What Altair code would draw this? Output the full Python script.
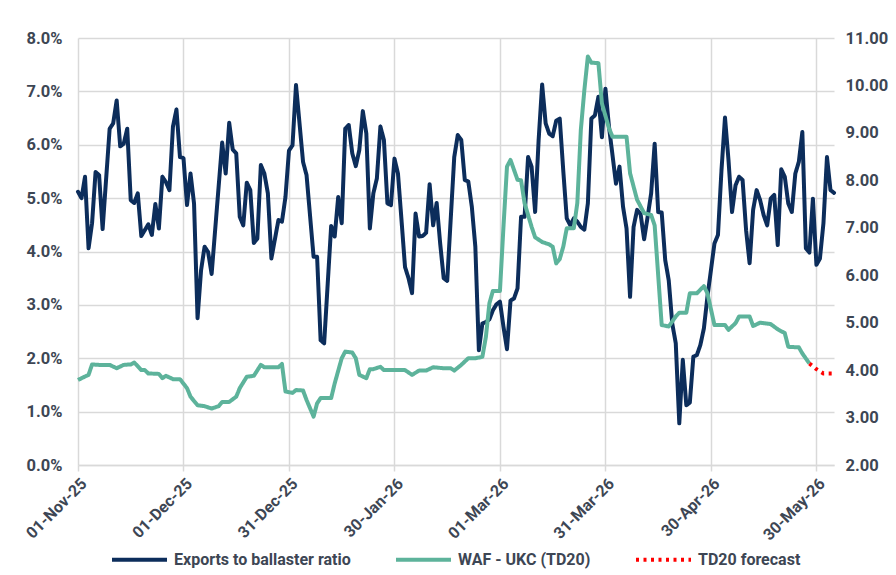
import altair as alt
import pandas as pd

START = "2025-11-01"
END = "2026-06-04"

# Exports to ballaster ratio (%), left axis: day offsets from START and values
navy_days = [0, 1, 2, 3, 4, 5, 6, 7, 9, 10, 11, 12, 13, 14, 15, 16, 17, 18, 19, 20,
             21, 22, 23, 24, 25, 26, 27, 28, 29, 30, 31, 32, 33, 34, 35, 36, 37, 38, 41, 42,
             43, 44, 45, 46, 47, 48, 49, 50, 51, 52, 53, 54, 55, 57, 58, 59, 60, 61, 62, 63,
             64, 65, 67, 68, 69, 70, 72, 73, 74, 75, 76, 77, 78, 79, 80, 81, 82, 83, 84, 85,
             86, 87, 88, 89, 90, 91, 92, 93, 94, 95, 96, 97, 98, 99, 100, 101, 102, 103, 104, 105,
             107, 108, 109, 110, 111, 112, 113, 114, 115, 116, 117, 118, 119, 120, 121, 122, 123, 124, 125, 126,
             127, 128, 129, 130, 131, 132, 133, 134, 135, 136, 137, 138, 139, 140, 141, 142, 143, 144, 145, 146,
             147, 148, 149, 150, 151, 152, 153, 154, 155, 156, 157, 158, 159, 160, 161, 162, 163, 164, 165, 166,
             167, 168, 169, 170, 171, 172, 173, 174, 175, 176, 177, 178, 179, 180, 181, 182, 183, 184, 185, 186,
             187, 188, 189, 190, 191, 192, 193, 194, 195, 196, 197, 198, 199, 200, 201, 202, 203, 204, 205, 206,
             207, 208, 209, 210, 211, 212, 213, 214, 215]
navy_vals = [5.12, 5.00, 5.40, 4.06, 4.53, 5.49, 5.43, 4.42, 6.30, 6.40, 6.83, 5.97, 6.02, 6.30, 4.96, 4.91, 5.09, 4.29, 4.40, 4.51,
             4.31, 4.89, 4.43, 5.40, 5.30, 5.15, 6.34, 6.66, 5.77, 5.75, 4.87, 5.46, 4.90, 2.75, 3.65, 4.09, 3.99, 3.58, 6.04, 5.46,
             6.41, 5.91, 5.84, 4.65, 4.49, 5.29, 5.15, 4.16, 4.24, 5.62, 5.46, 5.09, 3.87, 4.59, 4.56, 5.02, 5.89, 5.99, 7.12, 6.40,
             5.68, 5.43, 3.90, 3.90, 2.34, 2.28, 4.48, 4.28, 5.02, 4.53, 6.30, 6.37, 5.84, 5.60, 5.90, 6.63, 6.21, 4.43, 5.09, 5.37,
             6.34, 6.09, 4.90, 4.87, 5.74, 5.46, 4.59, 3.71, 3.50, 3.22, 4.71, 4.28, 4.29, 4.35, 5.26, 4.49, 4.91, 4.15, 3.50, 3.45,
             5.77, 6.18, 6.09, 5.34, 5.31, 4.84, 4.09, 2.15, 2.65, 2.68, 2.73, 2.90, 3.01, 3.06, 2.59, 2.17, 3.08, 3.12, 3.31, 4.65,
             4.65, 5.77, 5.59, 4.74, 6.09, 7.13, 6.40, 6.21, 6.16, 6.45, 6.49, 5.52, 4.62, 4.49, 4.62, 4.56, 4.46, 4.41, 4.90, 6.49,
             6.55, 6.90, 6.14, 7.05, 6.34, 5.81, 5.27, 5.59, 4.84, 4.43, 3.15, 4.46, 4.78, 4.70, 4.23, 4.65, 5.09, 6.02, 4.74, 4.73,
             3.84, 3.46, 2.65, 2.28, 0.78, 1.97, 1.12, 1.17, 2.03, 2.06, 2.25, 2.56, 3.15, 3.65, 4.15, 4.31, 5.52, 6.51, 5.71, 4.74,
             5.24, 5.40, 5.34, 4.40, 3.78, 4.78, 5.15, 4.96, 4.68, 4.49, 4.99, 5.06, 4.12, 5.54, 5.40, 4.90, 4.74, 5.46, 5.68, 6.24,
             4.06, 3.98, 4.99, 3.75, 3.87, 4.53, 5.77, 5.15, 5.10]

# WAF - UKC (TD20), right axis
teal_days = [0, 1, 3, 4, 6, 9, 11, 13, 15, 16, 18, 19, 20, 23, 24, 25, 27, 29, 31, 32,
             34, 36, 38, 40, 41, 43, 45, 46, 48, 50, 52, 53, 57, 58, 59, 61, 62, 64, 65, 67,
             68, 69, 72, 73, 75, 76, 78, 79, 80, 82, 83, 84, 86, 87, 93, 95, 97, 99, 101, 104,
             106, 107, 109, 111, 113, 115, 116, 117, 118, 120, 121, 122, 123, 125, 126, 127, 129, 130, 132, 134,
             135, 136, 137, 138, 139, 141, 142, 143, 144, 145, 146, 148, 149, 151, 152, 156, 157, 159, 161, 163,
             164, 166, 168, 170, 171, 173, 174, 176, 178, 179, 181, 184, 185, 187, 188, 191, 192, 194, 197, 199,
             201, 202, 205, 206, 208]
teal_vals = [3.79, 3.83, 3.90, 4.12, 4.11, 4.11, 4.04, 4.11, 4.12, 4.16, 4.00, 4.00, 3.93, 3.92, 3.83, 3.88, 3.81, 3.81, 3.62, 3.44,
             3.26, 3.24, 3.19, 3.24, 3.33, 3.33, 3.44, 3.62, 3.86, 3.88, 4.11, 4.06, 4.06, 4.13, 3.55, 3.52, 3.58, 3.57, 3.37, 3.02,
             3.30, 3.41, 3.41, 3.72, 4.25, 4.39, 4.37, 4.25, 3.90, 3.83, 4.02, 4.02, 4.07, 4.00, 4.00, 3.90, 3.99, 3.99, 4.06, 4.04,
             4.04, 3.99, 4.11, 4.25, 4.25, 4.28, 4.70, 5.41, 5.67, 5.67, 7.02, 8.29, 8.43, 8.01, 8.00, 7.52, 7.02, 6.80, 6.70, 6.65,
             6.60, 6.25, 6.34, 6.60, 6.99, 6.99, 7.52, 9.06, 9.90, 10.61, 10.48, 10.47, 9.62, 9.10, 8.92, 8.92, 8.15, 7.59, 7.31, 7.27,
             7.05, 4.95, 4.92, 5.13, 5.21, 5.21, 5.62, 5.62, 5.77, 5.62, 4.95, 4.95, 4.85, 4.99, 5.13, 5.13, 4.93, 5.00, 4.97, 4.86,
             4.78, 4.49, 4.48, 4.35, 4.14]

# TD20 forecast, right axis
fc_days = [208, 210, 212, 215]
fc_vals = [4.14, 4.02, 3.93, 3.93]

tick_dates = ["2025-11-01", "2025-12-01", "2025-12-31", "2026-01-30",
              "2026-03-01", "2026-03-31", "2026-04-30", "2026-05-30"]

series = ["Exports to ballaster ratio", "WAF - UKC (TD20)", "TD20 forecast"]
colors = ["#0c2d5b", "#5db39b", "#ff0000"]
dashes = [[1, 0], [1, 0], [3, 4.5]]

start = pd.Timestamp(START)


def to_dates(days):
    return [(start + pd.Timedelta(days=d)).strftime("%Y-%m-%d") for d in days]


def dt(s):
    t = pd.Timestamp(s)
    return alt.DateTime(year=t.year, month=t.month, date=t.day, utc=True)


left_df = pd.DataFrame({"date": to_dates(navy_days), "value": navy_vals, "series": series[0]})
right_df = pd.concat([
    pd.DataFrame({"date": to_dates(teal_days), "value": teal_vals, "series": series[1]}),
    pd.DataFrame({"date": to_dates(fc_days), "value": fc_vals, "series": series[2]}),
], ignore_index=True)

FONT = "Roboto"
LABEL_COLOR = "#3d4654"
GRID = "#d9d9d9"

legend = alt.Legend(
    title=None, orient="none", direction="horizontal", legendX=32, legendY=492,
    symbolType="stroke", symbolSize=3025, symbolStrokeWidth=4,
    labelFont=FONT, labelFontSize=16, labelFontWeight="bold", labelColor=LABEL_COLOR,
    labelOffset=5, columnPadding=37, padding=0, labelLimit=400,
)

color = alt.Color("series:N", scale=alt.Scale(domain=series, range=colors), legend=legend)
dash = alt.StrokeDash("series:N", scale=alt.Scale(domain=series, range=dashes), legend=legend)

x = alt.X(
    "date:T",
    scale=alt.Scale(type="utc", domain=[dt(START), dt(END)]),
    axis=alt.Axis(
        title=None, values=[dt(s) for s in tick_dates],
        labelExpr="utcFormat(datum.value, '%d-%b-%y')",
        labelAngle=-45, labelAlign="right", labelBaseline="top",
        labelFont=FONT, labelFontSize=16, labelFontWeight="bold", labelColor=LABEL_COLOR,
        labelPadding=4, tickSize=6, tickColor=GRID, tickWidth=1.5,
        grid=True, gridColor=GRID, gridWidth=1.5, domain=True, domainColor=GRID, domainWidth=1.5,
    ),
)

left = alt.Chart(left_df).mark_line(strokeWidth=4, strokeJoin="round", strokeCap="round").encode(
    x=x,
    y=alt.Y("value:Q", scale=alt.Scale(domain=[0, 8]), axis=alt.Axis(
        title=None, orient="left", values=list(range(0, 9)),
        labelExpr="format(datum.value, '.1f') + '%'",
        labelFont=FONT, labelFontSize=16.5, labelFontWeight="bold", labelColor=LABEL_COLOR,
        labelPadding=16, ticks=False, domain=False, grid=True, gridColor=GRID, gridWidth=1.5,
    )),
    color=color,
    strokeDash=dash,
)

right = alt.Chart(right_df).mark_line(strokeWidth=4, strokeJoin="round", strokeCap="butt").encode(
    x=x,
    y=alt.Y("value:Q", scale=alt.Scale(domain=[2, 11]), axis=alt.Axis(
        title=None, orient="right", values=list(range(2, 12)), format=".2f",
        labelFont=FONT, labelFontSize=16.5, labelFontWeight="bold", labelColor=LABEL_COLOR,
        labelPadding=11, ticks=False, domain=False, grid=False,
    )),
    color=color,
    strokeDash=dash,
    detail="series:N",
)

chart = alt.layer(left, right).resolve_scale(y="independent").properties(
    width=756, height=427,
    autosize=alt.AutoSizeParams(type="none"),
    padding={"left": 78, "top": 38, "right": 62, "bottom": 110},
    background="white",
).configure_view(stroke=None)

chart.save("out.html", embed_options={"renderer": "svg", "actions": False})
